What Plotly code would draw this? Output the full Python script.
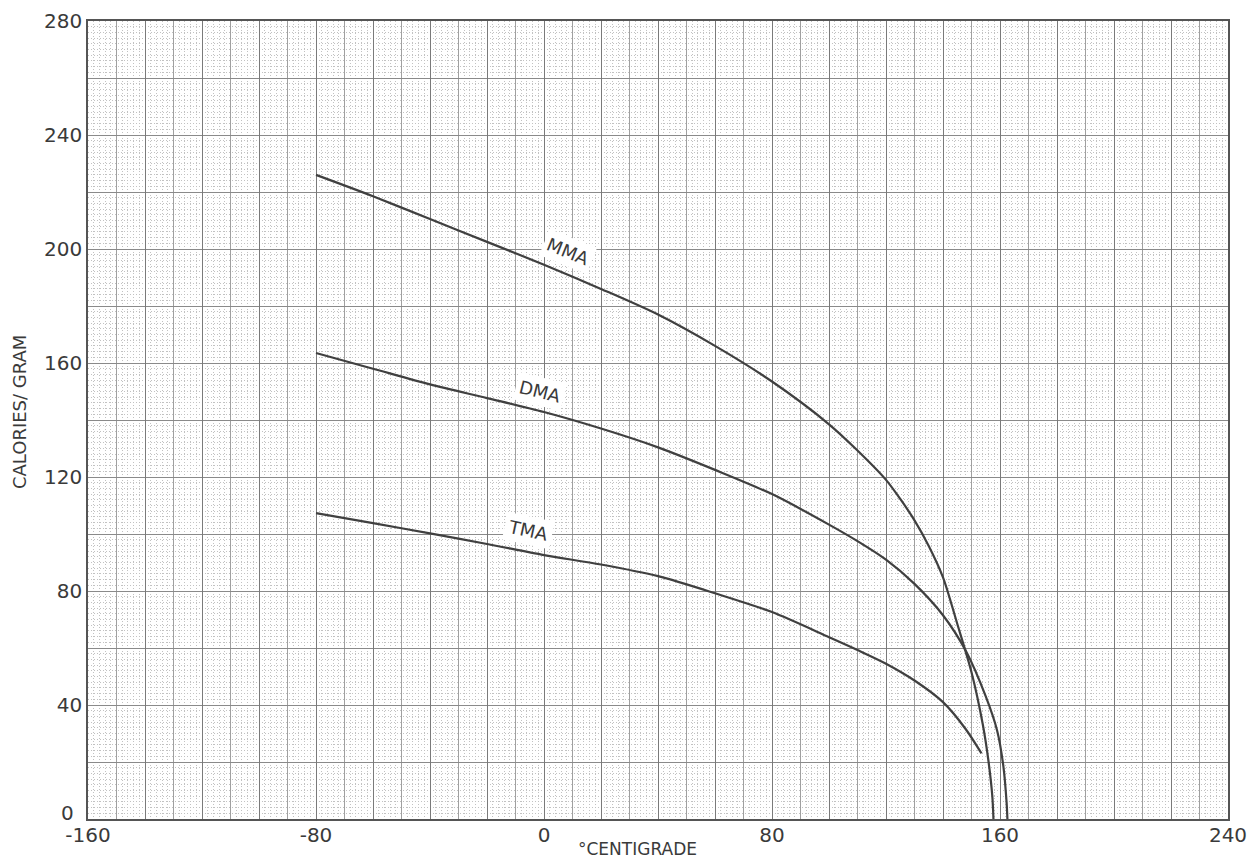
import plotly.graph_objects as go

# ---- data ----
mma_x = [-80, -60, -40, -20, 0, 20, 40, 60, 80, 100, 110, 120, 125, 130, 135, 140, 145, 150, 154, 156, 157.3, 157.7]
mma_y = [226, 218.5, 210.5, 202.5, 194.5, 186, 177, 166, 153.5, 138.5, 129.3, 119, 112.3, 104.8, 95.8, 84.8, 68.5, 51.5, 33, 20, 8, 0]

dma_x = [-80, -60, -40, -20, 0, 20, 40, 60, 80, 100, 110, 120, 130, 140, 148, 155, 159, 161.2, 162.3, 162.6]
dma_y = [163.5, 158, 152.5, 147.7, 142.8, 137, 130.4, 122.5, 114, 103.3, 97.5, 91, 82.5, 71.5, 59, 43, 31, 18.4, 6, 0]

tma_x = [-80, -60, -40, -20, 0, 20, 40, 60, 80, 100, 110, 120, 130, 140, 148, 153.5]
tma_y = [107.3, 103.8, 100.2, 96.5, 92.6, 89.3, 85.2, 79.2, 72.6, 63.8, 59.3, 54.5, 48.6, 41, 31.5, 23]

series_names = ["MMA", "DMA", "TMA"]
label_x = [8.4, -1.4, -5.5]
label_y = [199, 150, 101.4]
label_angle = [22, 14, 12]

x_tick_vals = list(range(-160, 241, 10))
x_tick_text = [str(v) if v % 80 == 0 else "" for v in x_tick_vals]
y_tick_vals = list(range(0, 281, 20))
y_tick_text = [str(v) if (v % 40 == 0 and v != 0) else "" for v in y_tick_vals]
y_zero_label = "0"

x_title = "°CENTIGRADE"
y_title = "CALORIES/ GRAM"

# ---- figure ----
LINE = "#404040"
FONT = "DejaVu Sans"
TXT = "#3a3a3a"

fig = go.Figure()
for xs, ys, name in [(mma_x, mma_y, "MMA"), (dma_x, dma_y, "DMA"), (tma_x, tma_y, "TMA")]:
    fig.add_trace(go.Scatter(x=xs, y=ys, mode="lines", name=name,
                             line=dict(color=LINE, width=2.2, shape="spline", smoothing=0.8),
                             showlegend=False, hoverinfo="skip"))

for name, lx, ly, ang in zip(series_names, label_x, label_y, label_angle):
    fig.add_annotation(x=lx, y=ly, text=name, showarrow=False, textangle=ang,
                       font=dict(family=FONT, size=18, color=TXT),
                       bgcolor="white", borderpad=3)

fig.add_annotation(xref="paper", yref="y", x=0, y=0, text=y_zero_label, showarrow=False,
                   xanchor="right", yanchor="middle", xshift=-12, yshift=6,
                   font=dict(family=FONT, size=20, color=TXT))

fig.add_annotation(xref="paper", yref="paper", x=0.4816, y=-0.038, text=x_title,
                   showarrow=False, yanchor="middle", xanchor="center",
                   font=dict(family=FONT, size=17, color=TXT))
fig.add_annotation(xref="paper", yref="paper", x=-0.0605, y=0.51, text=y_title,
                   showarrow=False, textangle=-90, xanchor="center", yanchor="middle",
                   font=dict(family=FONT, size=18, color=TXT))

fig.update_layout(
    width=1251, height=858,
    margin=dict(l=88, r=23, t=21, b=39, autoexpand=False),
    paper_bgcolor="white", plot_bgcolor="white",
    xaxis=dict(range=[-160, 240], tickmode="array", tickvals=x_tick_vals, ticktext=x_tick_text,
               showgrid=True, gridcolor="#a0a0a0", gridwidth=1, zeroline=False,
               showline=True, mirror=True, linecolor="#555", linewidth=1.5,
               ticks="", tickfont=dict(family=FONT, size=20, color=TXT), automargin=False,
               ticklabelstandoff=-3,
               minor=dict(dtick=2, tick0=0, showgrid=True, gridcolor="#c2c2c2", griddash="1px,2px", gridwidth=1),
               fixedrange=True),
    yaxis=dict(range=[0, 280], tickmode="array", tickvals=y_tick_vals, ticktext=y_tick_text,
               showgrid=True, gridcolor="#8a8a8a", gridwidth=1, zeroline=False,
               showline=True, mirror=True, linecolor="#555", linewidth=1.5,
               ticks="", tickfont=dict(family=FONT, size=20, color=TXT), automargin=False,
               minor=dict(dtick=2, tick0=0, showgrid=True, gridcolor="#c2c2c2", griddash="1px,2px", gridwidth=1),
               fixedrange=True),
    xaxis2=dict(range=[-160, 240], overlaying="x", dtick=20, tick0=0, showgrid=True,
                gridcolor="#7a7a7a", gridwidth=1, showticklabels=False, zeroline=False, ticks="",
                automargin=False),
)
fig.add_trace(go.Scatter(x=[None], y=[None], xaxis="x2", yaxis="y", showlegend=False, hoverinfo="skip"))

fig.write_html("out.html")
